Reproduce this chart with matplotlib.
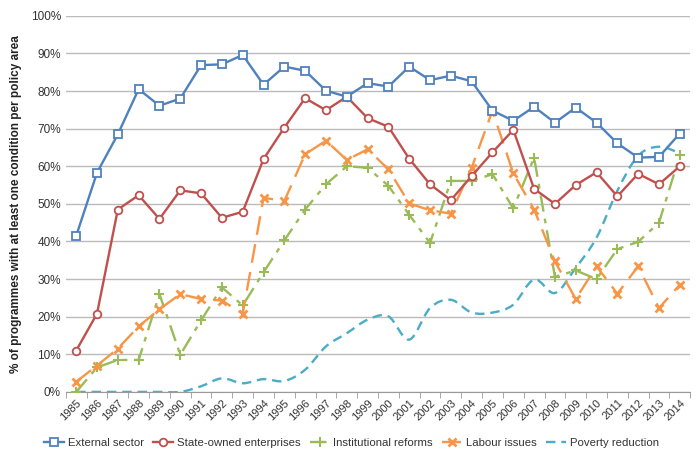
import matplotlib
matplotlib.use("Agg")
import matplotlib.pyplot as plt
from matplotlib.ticker import FixedLocator, FuncFormatter
from matplotlib.path import Path
from matplotlib.patches import PathPatch
from matplotlib.lines import Line2D

plt.rcParams['font.family'] = ['Liberation Sans', 'DejaVu Sans']

years = list(range(1985, 2015))
external = [41.5, 58.3, 68.5, 80.5, 76.1, 78.0, 86.9, 87.1, 89.6, 81.7,
            86.5, 85.4, 80.1, 78.5, 82.1, 81.2, 86.5, 82.9, 84.1, 82.6,
            74.8, 72.1, 75.8, 71.6, 75.6, 71.6, 66.1, 62.3, 62.5, 68.7]
soe = [11.0, 20.8, 48.5, 52.3, 46.0, 53.6, 52.8, 46.3, 47.9, 61.9,
       70.3, 78.1, 74.9, 78.5, 72.8, 70.5, 62.0, 55.2, 51.0, 57.4,
       63.7, 69.7, 54.0, 50.0, 55.0, 58.4, 52.0, 58.0, 55.2, 60.0]
institutional = [0.0, 6.5, 8.5, 8.5, 26.0, 9.9, 19.0, 27.8, 23.0, 31.8,
                 40.3, 48.5, 55.2, 60.0, 59.6, 54.8, 47.1, 39.6, 56.1, 56.1,
                 57.9, 48.8, 62.3, 30.6, 32.3, 30.0, 38.0, 39.9, 45.0, 62.9]
labour = [2.7, 7.0, 11.5, 17.4, 22.0, 26.0, 24.7, 24.3, 20.8, 51.6,
          50.8, 63.2, 66.8, 61.7, 64.5, 59.2, 50.1, 48.3, 47.4, 59.6,
          74.8, 58.1, 48.5, 34.7, 24.7, 33.4, 26.1, 33.4, 22.3, 28.5]
poverty = [0.0, 0.0, 0.0, 0.0, 0.0, 0.0, 1.5, 3.6, 2.3, 3.4,
           2.9, 5.9, 12.1, 15.6, 19.2, 20.1, 13.9, 22.3, 24.5, 21.1,
           21.1, 23.2, 29.9, 26.3, 33.0, 41.0, 53.5, 62.8, 65.2, 63.5]

fig = plt.figure(figsize=(7, 4.66), dpi=100)
ax = fig.add_axes([0.094, 0.159, 0.892, 0.807])

blue, red, green, orange, cyan = '#4F81BD', '#C0504D', '#9BBB59', '#F79646', '#4BACC6'

ax.plot(years, external, color=blue, lw=1.7, marker='s', ms=5.5,
        mfc='white', mec=blue, mew=1.3, label='External sector', zorder=5)
ax.plot(years, soe, color=red, lw=1.7, marker='o', ms=5.5,
        mfc='white', mec=red, mew=1.3, label='State-owned enterprises', zorder=4)
ax.plot(years, institutional, color=green, lw=1.7, dashes=(7, 3, 2, 3), marker='+', ms=7,
        mec=green, mew=1.5, label='Institutional reforms', zorder=3)
ax.plot(years, labour, color=orange, lw=1.7, dashes=(8, 4), marker='x', ms=6,
        mec=orange, mew=2.0, label='Labour issues', zorder=3)

# smoothed poverty line (Catmull-Rom style Bezier, like a spreadsheet "smoothed line")
verts = [(years[0], poverty[0])]
codes = [Path.MOVETO]
n = len(years)
t = 1.0 / 6.0
for i in range(n - 1):
    x0, y0 = (years[i - 1], poverty[i - 1]) if i > 0 else (years[i], poverty[i])
    x1, y1 = years[i], poverty[i]
    x2, y2 = years[i + 1], poverty[i + 1]
    x3, y3 = (years[i + 2], poverty[i + 2]) if i + 2 < n else (x2, y2)
    c1 = (x1 + (x2 - x0) * t, y1 + (y2 - y0) * t)
    c2 = (x2 - (x3 - x1) * t, y2 - (y3 - y1) * t)
    verts += [c1, c2, (x2, y2)]
    codes += [Path.CURVE4] * 3
patch = PathPatch(Path(verts, codes), fill=False, edgecolor=cyan, lw=1.7,
                  linestyle=(0, (4, 2.5)), zorder=2)
ax.add_patch(patch)

ax.set_xlim(1984.5, 2014.5)
ax.set_ylim(0, 100)
ax.yaxis.set_major_locator(FixedLocator(range(0, 101, 10)))
ax.yaxis.set_major_formatter(FuncFormatter(lambda v, p: f'{int(v)}%'))
ax.set_xticks(years)
ax.set_xticklabels([str(y) for y in years], rotation=45, ha='right',
                   rotation_mode='anchor', fontsize=8, color='#333333')
ax.set_xticks([y + 0.5 for y in [1984] + years], minor=True)
ax.tick_params(axis='x', which='major', length=0, pad=4)
ax.tick_params(axis='x', which='minor', length=4, color='#999999')
ax.tick_params(axis='y', length=0, labelsize=8.5, colors='#333333')
ax.grid(axis='y', color='#BBBBBB', lw=1.0)
ax.set_axisbelow(True)
for s in ['top', 'right', 'left']:
    ax.spines[s].set_visible(False)
ax.spines['bottom'].set_color('#999999')

ax.set_ylabel('% of programmes with at least one condition per policy area',
              fontsize=8.5, fontweight='bold', color='#222222', labelpad=6)

handles, labels = ax.get_legend_handles_labels()
handles.append(Line2D([], [], color=cyan, lw=1.7, linestyle=(0, (4, 2.5))))
labels.append('Poverty reduction')
leg = fig.legend(handles, labels, loc='center', ncol=5,
                 bbox_to_anchor=(0.502, 0.05), frameon=False, fontsize=8.2,
                 handlelength=1.8, columnspacing=0.8, handletextpad=0.3)
for tx in leg.get_texts():
    tx.set_color('#333333')

fig.savefig('out.png', dpi=100)
